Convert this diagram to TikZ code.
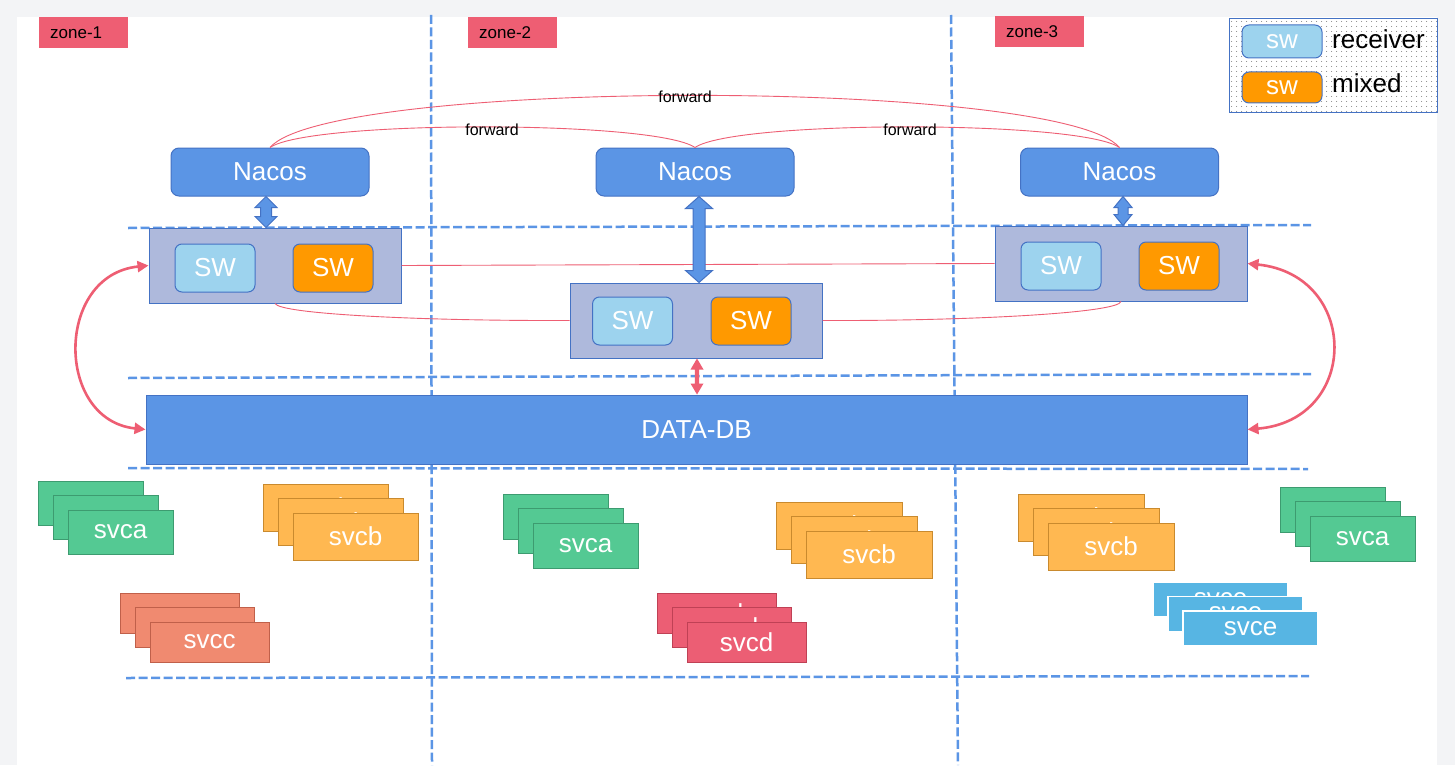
\documentclass[tikz,border=0pt]{standalone}
\usepackage{fontspec}
\setmainfont{Liberation Sans}
\usetikzlibrary{calc,arrows.meta}
\definecolor{pagebg}{RGB}{243,244,246}
\definecolor{bfill}{RGB}{91,149,229}
\definecolor{bline}{RGB}{68,114,196}
\definecolor{swbg}{RGB}{174,185,220}
\definecolor{recv}{RGB}{157,211,238}
\definecolor{mixc}{RGB}{255,153,0}
\definecolor{redc}{RGB}{238,94,115}
\definecolor{dashc}{RGB}{91,149,229}
\definecolor{greenc}{RGB}{84,201,147}
\definecolor{greenl}{RGB}{61,155,112}
\definecolor{orangec}{RGB}{255,184,81}
\definecolor{orangel}{RGB}{201,138,46}
\definecolor{salmonc}{RGB}{240,138,112}
\definecolor{salmonl}{RGB}{192,96,74}
\definecolor{pinkc}{RGB}{236,94,116}
\definecolor{pinkl}{RGB}{191,65,85}
\definecolor{cyanc}{RGB}{87,181,227}
\newcommand\blockarrow[6]{%
  \path[#6] let \p1=(#1), \p2=(#2) in
    (\x1,\y1) -- (\x1+#4pt,\y1-#5pt) -- (\x1+#3pt,\y1-#5pt) -- (\x1+#3pt,\y2+#5pt)
    -- (\x1+#4pt,\y2+#5pt) -- (\x1,\y2) -- (\x1-#4pt,\y2+#5pt) -- (\x1-#3pt,\y2+#5pt)
    -- (\x1-#3pt,\y1-#5pt) -- (\x1-#4pt,\y1-#5pt) -- cycle;}
% #1 name, #2 x, #3 y, #4 w, #5 h, #6 style, #7 front text, #8 back text
\newcommand\svcstack[8]{%
  \node[card,#6,minimum width=#4pt,minimum height=#5pt] (#1a)
    at ({#2+#4/2},{#3+#5/2}) {#8};
  \node[card,#6,minimum width=#4pt,minimum height=#5pt] (#1b)
    at ({#2+#4/2+15},{#3+#5/2+14.5}) {#8};
  \node[card,#6,minimum width=#4pt,minimum height=#5pt] (#1c)
    at ({#2+#4/2+30},{#3+#5/2+29}) {#7};}
\begin{document}
\begin{tikzpicture}[x=1pt,y=-1pt,
  f26/.style={font=\fontsize{26pt}{30pt}\selectfont},
  dashline/.style={draw=dashc,line width=2.5pt,dash pattern=on 9pt off 3.5pt},
  zonelab/.style={fill=redc,inner xsep=11pt,inner ysep=0pt,text width=67pt,align=left,
    minimum height=31pt,anchor=north west,font=\fontsize{17pt}{20pt}\selectfont,text=black},
  nacos/.style={draw=bline,fill=bfill,rounded corners=8pt,minimum width=198pt,minimum height=48pt,
    inner sep=0pt,text=white,f26,line width=1pt},
  swgroup/.style={draw=bline,fill=swbg,minimum width=252pt,minimum height=75pt,inner sep=0pt,line width=1pt},
  swr/.style={draw=bline,fill=recv,rounded corners=7pt,minimum width=80pt,minimum height=48pt,
    inner sep=0pt,text=white,f26,line width=1pt},
  swm/.style={swr,fill=mixc},
  card/.style={inner sep=0pt,text=white,f26,line width=1pt},
  gcard/.style={fill=greenc,draw=greenl},
  ocard/.style={fill=orangec,draw=orangel},
  scard/.style={fill=salmonc,draw=salmonl},
  pcard/.style={fill=pinkc,draw=pinkl},
  ccard/.style={fill=cyanc,draw=white,line width=1.5pt},
  thinred/.style={draw=redc,line width=0.9pt},
  bigred/.style={draw=redc,line width=2.6pt,
    {Triangle[length=11pt,width=11pt]}-{Triangle[length=11pt,width=11pt]}},
  barrow/.style={fill=bfill,draw=bline,line width=1pt},
  rarrow/.style={fill=redc},
  fwd/.style={font=\fontsize{16pt}{19pt}\selectfont,text=black,inner sep=0pt}
]
\useasboundingbox (0,0) rectangle (1455,765);
\fill[pagebg] (0,0) rectangle (1455,765);
\fill[white] (17,17) rectangle (1437,765);

% dashed zone lines
\draw[dashline] (431,15) -- (432,765);
\draw[dashline] (951,15) -- (958,765);
\draw[dashline] (128,228) -- (1311,225);
\draw[dashline] (128,378) -- (1311,374);
\draw[dashline] (128,468) -- (1308,469);
\draw[dashline] (126,678) -- (1309,676);

% zone labels
\node[zonelab] (z1) at (39,17) {zone-1};
\node[zonelab] (z2) at (468,17) {zone-2};
\node[zonelab] (z3) at (995,16) {zone-3};

% legend
\draw[bline,fill=white,line width=1pt] (1229,19) rectangle (1437,113);
\foreach \i in {0,...,41}{\foreach \j in {0,...,18}{\fill[gray] ({1231.5+5*\i},{21.5+5*\j}) circle (0.5pt);}}
\node[swr,minimum height=33pt,f26] (lr) at (1282,41.5) {sw};
\node[swm,minimum height=31pt,f26] (lm) at (1282,87.5) {sw};
\node[f26,anchor=base west,inner sep=0pt] (lrt) at (1332,49) {receiver};
\node[f26,anchor=base west,inner sep=0pt] (lmt) at (1332,93) {mixed};

% Nacos
\node[nacos] (n1) at (270,172) {Nacos};
\node[nacos] (n2) at (695,172) {Nacos};
\node[nacos] (n3) at (1119.5,172) {Nacos};

% forward curves
\draw[thinred] (n1.north) .. controls (330,78) and (1060,78) .. (n3.north);
\draw[thinred] (n1.north) .. controls (310,120) and (655,120) .. (n2.north);
\draw[thinred] (n2.north) .. controls (735,120) and (1080,120) .. (n3.north);
\node[fwd] (f1) at (685,97) {forward};
\node[fwd] (f2) at (492,130) {forward};
\node[fwd] (f3) at (910,130) {forward};

% SW groups
\node[swgroup] (b1) at (275,265.5) {};
\node[swgroup] (b2) at (696,320.5) {};
\node[swgroup] (b3) at (1121,263.5) {};
\node[swr] (s1r) at (215,268) {SW};
\node[swm] (s1m) at (333,268) {SW};
\node[swr] (s2r) at (632.5,321) {SW};
\node[swm] (s2m) at (751,321) {SW};
\node[swr] (s3r) at (1061,266) {SW};
\node[swm] (s3m) at (1179,266) {SW};

% DATA-DB
\node[draw=bline,fill=bfill,minimum width=1101pt,minimum height=69pt,inner sep=0pt,text=white,f26,line width=1pt] (db) at (696.5,429.5) {DATA-DB};

% thin red links between SW groups
\draw[thinred] (b1.east) -- (b3.west);
\draw[thinred] (b1.south) .. controls (280,314) and (420,321) .. (b2.west);
\draw[thinred] (b2.east) .. controls (970,321) and (1118,313) .. (b3.south);

% block arrows Nacos <-> SW
\blockarrow{[xshift=-4pt]n1.south}{b1.north}{5.5}{11}{11}{barrow}
\blockarrow{[xshift=4pt]n2.south}{b2.north}{6}{13.5}{12}{barrow}
\blockarrow{[xshift=3.5pt]n3.south}{b3.north}{5}{9}{11}{barrow}
\blockarrow{[xshift=1pt]b2.south}{db.north}{2.2}{6.5}{11}{rarrow}

% big red curved arrows
\draw[bigred] (b1.west) .. controls (55,275) and (55,420) .. (db.west);
\draw[bigred] (b3.east) .. controls (1360,275) and (1360,420) .. (db.east);

% service stacks
\svcstack{ca1}{38}{481}{105}{44}{gcard}{svca}{}
\svcstack{cb1}{263}{484}{125}{47}{ocard}{svcb}{svcb}
\svcstack{cc1}{120}{593}{119}{40}{scard}{svcc}{}
\svcstack{ca2}{503}{494}{105}{45}{gcard}{svca}{}
\svcstack{cb2}{776}{502}{126}{47}{ocard}{svcb}{svcb}
\svcstack{cd2}{657}{593}{119}{40}{pcard}{svcd}{svcd}
\svcstack{cb3}{1018}{494}{126}{47}{ocard}{svcb}{svcb}
\svcstack{ca3}{1280}{487}{105}{45}{gcard}{svca}{}
\svcstack{ce3}{1153}{582}{135}{35}{ccard}{svce}{svce}
\end{tikzpicture}
\end{document}
